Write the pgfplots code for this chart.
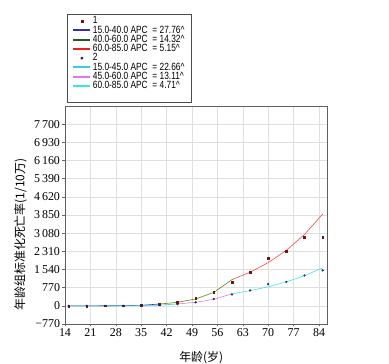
\documentclass[border=0pt]{standalone}
\usepackage{pgfplots}
\pgfplotsset{compat=1.18}
\usepackage{fontspec}
\setmainfont{Liberation Serif}
\newfontfamily\legfont[FakeStretch=0.8]{Liberation Sans}
\newfontfamily\cjk{Noto Sans CJK SC}
\definecolor{sOne}{HTML}{7A1010}
\definecolor{sTwo}{HTML}{23235E}
\definecolor{lBlue}{HTML}{2F2FB0}
\definecolor{lGreen}{HTML}{1E5A1E}
\definecolor{lRed}{HTML}{E82020}
\definecolor{lCyanA}{HTML}{38D0D0}
\definecolor{lViolet}{HTML}{E27AE2}
\definecolor{lCyanB}{HTML}{3CE6E6}
\begin{document}
\begin{tikzpicture}
\path[use as bounding box] (-65bp,-40bp) rectangle (324bp,324bp);
\begin{axis}[
  scale only axis, width=262bp, height=218bp,
  xmin=14, xmax=86.2, ymin=-770, ymax=8470,
  xtick={14,21,...,84},
  ytick={-770,0,770,1540,2310,3080,3850,4620,5390,6160,6930,7700},
  yticklabels={−770,0,770,1\,540,2\,310,3\,080,3\,850,4\,620,5\,390,6\,160,6\,930,7\,700},
  /pgf/number format/assume math mode=true,
  ticklabel style={font=\fontsize{12}{12}\selectfont},
  xticklabel style={yshift=1bp},
  yticklabel style={xshift=1bp},
  tick align=outside, major tick length=2.5bp,
  xtick pos=bottom, ytick pos=left,
  tick style={gray!80!black, line width=0.4pt},
  axis line style={gray!75!black, line width=0.6pt},
  grid=major, major grid style={gray!25, line width=0.4pt},
  xlabel={\cjk 年龄(岁)},
  xlabel style={font=\fontsize{12}{12}\selectfont, at={(axis description cs:0.52,-0.11)}, anchor=north},
  ylabel={\cjk 年龄组标准化死亡率(1/10万)},
  ylabel style={font=\fontsize{12}{12}\selectfont, at={(axis description cs:-0.17,0.41)}, anchor=center},
  legend style={at={(axis description cs:0.008,1.422)}, anchor=north west,
    draw=gray!60!black, line width=0.6pt,
    font=\legfont\fontsize{10.5}{10.5}\selectfont,
    inner xsep=5bp, inner ysep=2bp, row sep=0pt,
    nodes={inner xsep=1.5bp, inner ysep=0.2bp, text height=7.3bp, text depth=1.6bp}},
  legend cell align=left,
]
% legend images
\addlegendimage{only marks, mark=square*, mark size=1.1pt, color=sOne}
\addlegendentry{1}
\addlegendimage{lBlue, line width=2bp}
\addlegendentry{15.0-40.0 APC\ \ = 27.76\textasciicircum}
\addlegendimage{lGreen, line width=2bp}
\addlegendentry{40.0-60.0 APC\ \ = 14.32\textasciicircum}
\addlegendimage{lRed, line width=2bp}
\addlegendentry{60.0-85.0 APC\ \ = 5.15\textasciicircum}
\addlegendimage{only marks, mark=*, mark size=1.1pt, color=sTwo}
\addlegendentry{2}
\addlegendimage{lCyanA, line width=2bp}
\addlegendentry{15.0-45.0 APC\ \ = 22.66\textasciicircum}
\addlegendimage{lViolet, line width=2bp}
\addlegendentry{45.0-60.0 APC\ \ = 13.11\textasciicircum}
\addlegendimage{lCyanB, line width=2bp}
\addlegendentry{60.0-85.0 APC\ \ = 4.71\textasciicircum}
\addlegendimage{empty legend}
\addlegendentry{}
% fitted lines
\addplot[forget plot, lBlue, line width=0.6pt] coordinates {
(15,0.17) (20,0.57) (25,1.9) (30,6.6) (35,22) (40,76)};
\addplot[forget plot, lGreen!70!lime, line width=0.6pt] coordinates {
(40,76) (45,149) (50,291) (55,568) (60,1109)};
\addplot[forget plot, lRed!80!white, line width=0.6pt] coordinates {
(60,1109) (65,1425) (70,1831) (75,2353) (80,3024) (85,3886)};
\addplot[forget plot, lCyanA, line width=0.6pt] coordinates {
(15,0.17) (20,0.49) (25,1.35) (30,3.7) (35,10.4) (40,29) (45,80)};
\addplot[forget plot, lViolet, line width=0.6pt] coordinates {
(45,80) (50,148) (55,275) (60,509)};
\addplot[forget plot, lCyanB, line width=0.6pt] coordinates {
(60,509) (65,641) (70,807) (75,1016) (80,1279) (85,1610)};
% data
\addplot[forget plot, only marks, mark=square*, mark size=0.9pt, color=sOne] coordinates {
(15,0.5) (20,1) (25,2) (30,6) (35,20) (40,72) (45,143) (50,313) (55,593) (60,1017) (65,1428) (70,2009) (75,2318) (80,2899) (85,2911)};
\addplot[forget plot, only marks, mark=*, mark size=0.9pt, color=sTwo] coordinates {
(15,0.2) (20,0.5) (25,1.5) (30,4) (35,10) (40,30) (45,72) (50,150) (55,290) (60,483) (65,652) (70,920) (75,1017) (80,1288) (85,1500)};
\end{axis}
\end{tikzpicture}
\end{document}
